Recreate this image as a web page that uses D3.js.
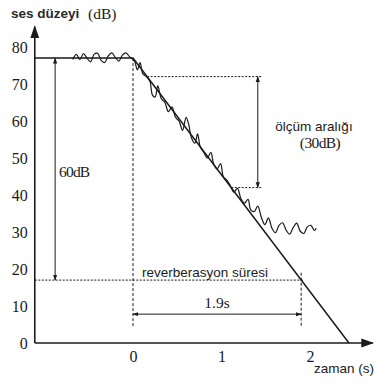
<!DOCTYPE html>
<html><head><meta charset="utf-8">
<script src="https://cdn.jsdelivr.net/npm/d3@7"></script>
<style>body{margin:0;background:#fff}svg{display:block}</style>
</head><body>
<svg id="c" width="374" height="392"></svg>
<script>
// ---- data ----
const yTicks = [0,10,20,30,40,50,60,70,80];
const xTicks = [0,1,2];
const plateauLevel = 77;      // dB
const decayEnd = 2.44;        // s, straight decay reaches 0 dB
const axisStartT = -1.11;     // s, left end (y axis position)
const rt60 = 1.9;             // s
const lowLevel = 17;          // dB (plateau - 60)
const measTop = 72, measBottom = 42; // dB
const noiseT = [-0.68,-0.64,-0.60,-0.56,-0.52,-0.48,-0.44,-0.40,-0.36,-0.32,-0.28,-0.24,-0.20,-0.16,-0.12,-0.08,-0.04,0.00,
  0.02,0.05,0.08,0.11,0.15,0.19,0.22,0.25,0.28,0.32,0.36,0.40,0.44,0.48,0.52,0.56,0.60,0.63,0.66,0.70,0.73,0.76,0.80,0.84,0.88,0.91,0.95,0.99,1.02,1.06,1.10,1.14,1.18,1.22,1.26,1.30,1.33,1.37,
  1.41,1.45,1.49,1.53,1.57,1.61,1.65,1.69,1.73,1.77,1.81,1.85,1.89,1.93,1.97,2.01,2.05,2.07];
const noiseDB = [76.6,78.0,76.6,78.2,77.0,76.0,78.0,78.3,76.4,75.8,77.6,78.4,77.2,76.2,77.8,78.4,77.4,76.6,
  76.0,73.8,75.8,72.8,72.0,70.8,67.0,66.5,69.5,66.0,65.0,62.5,63.8,61.0,60.0,57.5,61.0,59.0,55.5,54.0,56.5,53.0,51.5,50.0,51.5,48.5,47.0,48.5,45.0,44.0,42.5,40.8,41.8,39.0,37.8,38.8,36.0,35.5,
  37.0,34.0,32.0,33.8,31.0,29.8,31.8,32.5,30.5,29.4,31.2,32.4,30.2,29.6,31.4,31.8,30.4,31.0];

// ---- scales ----
const svg = d3.select("#c");
const x = d3.scaleLinear().domain([0,2]).range([133,310]);
const y = d3.scaleLinear().domain([0,80]).range([343,47]);
const ink = "#1a1a1a";
const serif = "'Liberation Serif','DejaVu Serif',serif";
const sans = "'Liberation Sans',Arial,sans-serif";

const defs = svg.append("defs");
function mk(id, size){
  defs.append("marker").attr("id",id).attr("viewBox","0 0 10 10").attr("refX",9).attr("refY",5)
    .attr("markerWidth",size).attr("markerHeight",size).attr("orient","auto-start-reverse")
    .append("path").attr("d","M0,1.5 L10,5 L0,8.5 Z").attr("fill",ink);
}
mk("ar",6); mk("axar",8);

// axes
svg.append("line").attr("x1",x(axisStartT)).attr("x2",x(axisStartT)).attr("y1",y(0)).attr("y2",y(85.5))
  .attr("stroke",ink).attr("stroke-width",1.6).attr("marker-end","url(#axar)");
svg.append("line").attr("x1",x(axisStartT)).attr("x2",x(2.71)).attr("y1",y(0)).attr("y2",y(0))
  .attr("stroke",ink).attr("stroke-width",1.6).attr("marker-end","url(#axar)");

const yAx = svg.append("g").attr("transform",`translate(${x(axisStartT)},0)`)
  .call(d3.axisLeft(y).tickValues(yTicks).tickSize(0).tickPadding(7));
yAx.select(".domain").remove();
yAx.selectAll("text").attr("font-family",serif).attr("font-size",16).attr("fill",ink);
const xAx = svg.append("g").attr("transform",`translate(0,${y(0)})`)
  .call(d3.axisBottom(x).tickValues(xTicks).tickFormat(d3.format("d")).tickSize(0).tickPadding(8));
xAx.select(".domain").remove();
xAx.selectAll("text").attr("font-family",serif).attr("font-size",16).attr("fill",ink);

// straight decay line
const straight = [[axisStartT,plateauLevel],[0,plateauLevel],[decayEnd,0]];
svg.append("path").attr("d",d3.line().x(d=>x(d[0])).y(d=>y(d[1]))(straight))
  .attr("fill","none").attr("stroke",ink).attr("stroke-width",1.5);

// noisy measured curve
const noise = noiseT.map((t,i)=>[t,noiseDB[i]]);
svg.append("path").attr("d",d3.line().x(d=>x(d[0])).y(d=>y(d[1])).curve(d3.curveCatmullRom)(noise))
  .attr("fill","none").attr("stroke",ink).attr("stroke-width",1.2);

// dashed verticals
svg.append("line").attr("x1",x(0)).attr("x2",x(0)).attr("y1",y(plateauLevel)).attr("y2",y(4.3))
  .attr("stroke",ink).attr("stroke-width",1).attr("stroke-dasharray","3,2");
svg.append("line").attr("x1",x(rt60)).attr("x2",x(rt60)).attr("y1",y(19)).attr("y2",y(4.3))
  .attr("stroke",ink).attr("stroke-width",1).attr("stroke-dasharray","3,2");

// dotted horizontals
const dot = (t1,t2,v)=>svg.append("line").attr("x1",x(t1)).attr("x2",x(t2)).attr("y1",y(v)).attr("y2",y(v))
  .attr("stroke",ink).attr("stroke-width",1).attr("stroke-dasharray","2,1.5");
dot(axisStartT,1.93,lowLevel);
dot(0.16,1.45,measTop);
dot(1.11,1.45,measBottom);

// arrows
const arrow = (x1,y1,x2,y2)=>svg.append("line").attr("x1",x1).attr("y1",y1).attr("x2",x2).attr("y2",y2)
  .attr("stroke",ink).attr("stroke-width",1).attr("marker-start","url(#ar)").attr("marker-end","url(#ar)");
arrow(x(-0.88),y(plateauLevel),x(-0.88),y(lowLevel));
arrow(x(1.41),y(measTop),x(1.41),y(measBottom));
arrow(x(0),y(7.8),x(rt60),y(7.8));

// texts
const txt = (s,tx,ty,font,size,anchor,weight)=>svg.append("text").attr("x",tx).attr("y",ty).text(s)
  .attr("font-family",font).attr("font-size",size).attr("fill",ink).attr("text-anchor",anchor||"start")
  .attr("font-weight",weight||"normal");
txt("ses düzeyi",11,18,sans,13.5,"start","bold").attr("fill","#2a2a2a");
txt("(dB)",88,19,serif,15.5);
txt("60dB",59,177,serif,15.5).attr("letter-spacing",-0.8);
txt("ölçüm aralığı",314,131,sans,13.5,"middle");
txt("(30dB)",320,148,serif,15.5,"middle").attr("letter-spacing",-0.6);
txt("reverberasyon süresi",205,277,sans,13.5,"middle");
txt("1.9s",217,308,serif,15.5,"middle");
txt("zaman (s)",344,373,sans,13.5,"middle");
</script>
</body></html>
